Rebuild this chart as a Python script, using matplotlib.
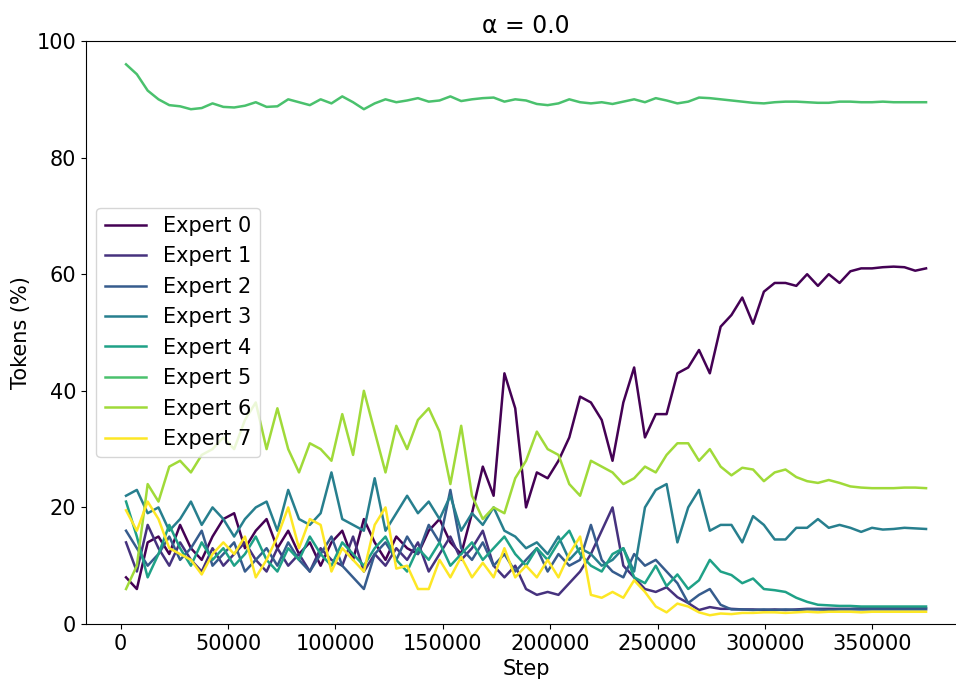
import numpy as np
import matplotlib.pyplot as plt

steps = np.linspace(2500, 375000, 75)

expert_0 = [8, 6, 14, 15, 12, 17, 13, 11, 15, 18, 19, 13, 16, 18, 13, 16, 12, 14, 10, 14,
            16, 11, 18, 14, 11, 15, 13, 12, 16, 18, 14, 12, 19, 27, 22, 43, 37, 20, 26, 25,
            28, 32, 39, 38, 35, 28, 38, 44, 32, 36, 36, 43, 44, 47, 43, 51, 53, 56, 51.5, 57,
            58.5, 58.5, 58, 60, 58, 60, 58.5, 60.5, 61, 61, 61.2, 61.3, 61.2, 60.6, 61]
expert_1 = [14, 9, 17, 13, 10, 14, 11, 9, 13, 10, 12, 14, 11, 9, 13, 10, 12, 9, 13, 11,
            10, 15, 9, 12, 10, 13, 11, 14, 9, 12, 15, 11, 13, 16, 10, 8, 10, 6, 5, 5.5,
            5, 7, 9, 12, 16, 20, 10, 8, 6, 5.5, 6.3, 4.6, 3.6, 2.4, 2.9, 2.6, 2.6, 2.5, 2.5, 2.4,
            2.5, 2.4, 2.5, 2.6, 2.6, 2.6, 2.6, 2.6, 2.7, 2.7, 2.7, 2.7, 2.7, 2.7, 2.7]
expert_2 = [16, 13, 10, 12, 15, 11, 13, 16, 10, 12, 14, 9, 11, 13, 10, 14, 11, 9, 12, 15,
            10, 8, 6, 12, 14, 11, 15, 12, 17, 14, 23, 13, 11, 14, 10, 12, 9, 11, 13, 9,
            12, 10, 11, 17, 11, 9, 8, 12, 10, 11, 9, 7, 3.6, 5, 6, 3.3, 2.5, 2.5, 2.4, 2.5,
            2.4, 2.5, 2.4, 2.5, 2.5, 2.4, 2.5, 2.5, 2.5, 2.5, 2.5, 2.5, 2.5, 2.5, 2.5]
expert_3 = [22, 23, 19, 20, 16, 18, 21, 17, 20, 18, 15, 18, 20, 21, 16, 23, 18, 17, 19, 26,
            18, 17, 16, 25, 16, 19, 22, 19, 21, 18, 22, 16, 19, 17, 20, 16, 15, 13, 14, 12,
            15, 11, 13, 12, 10, 11, 13, 9, 20, 23, 24, 14, 20, 23, 16, 17, 17, 14, 18.5, 17,
            14.5, 14.5, 16.5, 16.5, 18, 16.5, 17, 16.5, 15.8, 16.5, 16.2, 16.3, 16.5, 16.4, 16.3]
expert_4 = [21, 15, 8, 12, 17, 13, 10, 14, 11, 13, 10, 12, 15, 11, 9, 13, 11, 15, 12, 10,
            14, 12, 10, 13, 15, 11, 9, 13, 11, 14, 10, 12, 14, 11, 13, 15, 12, 10, 13, 11,
            14, 16, 12, 10, 9, 12, 13, 8, 7, 10, 6.5, 8.5, 6, 7.5, 11, 9, 8.4, 7, 7.8, 6,
            5.8, 5.5, 4.5, 3.8, 3.3, 3.2, 3.1, 3.1, 3.0, 3.0, 3.0, 3.0, 3.0, 3.0, 3.0]
expert_5 = [96, 94.3, 91.5, 90, 89, 88.8, 88.3, 88.5, 89.3, 88.7, 88.6, 88.9, 89.5, 88.7, 88.8,
            90, 89.5, 89, 90, 89.3, 90.5, 89.5, 88.3, 89.3, 90, 89.5, 89.8, 90.2, 89.6, 89.8,
            90.5, 89.7, 90, 90.2, 90.3, 89.6, 90, 89.8, 89.2, 89, 89.3, 90, 89.5, 89.3, 89.5,
            89.2, 89.6, 90, 89.5, 90.2, 89.8, 89.3, 89.6, 90.3, 90.2, 90, 89.8, 89.6, 89.4, 89.3,
            89.5, 89.6, 89.6, 89.5, 89.4, 89.4, 89.6, 89.6, 89.5, 89.5, 89.6, 89.5, 89.5, 89.5, 89.5]
expert_6 = [6, 10, 24, 21, 27, 28, 26, 29, 30, 32, 30, 35, 38, 30, 37, 30, 26, 31, 30, 28,
            36, 29, 40, 33, 26, 34, 30, 35, 37, 33, 24, 34, 22, 18, 20, 19, 25, 28, 33, 30,
            29, 24, 22, 28, 27, 26, 24, 25, 27, 26, 29, 31, 31, 28, 30, 27, 25.5, 26.8, 26.5, 24.5,
            26, 26.5, 25.2, 24.5, 24.2, 24.7, 24.2, 23.6, 23.4, 23.3, 23.3, 23.3, 23.4, 23.4, 23.3]
expert_7 = [19.5, 16, 21, 18, 13, 12, 11, 8.5, 12, 14, 12, 15, 8, 11, 15, 20, 13, 18, 17, 9,
            13, 11, 9, 17, 20, 9.5, 10, 6, 6, 11, 8, 11.5, 8, 10.5, 8, 13, 8, 10, 8, 11,
            8, 12, 15, 5, 4.5, 5.5, 4.5, 7.5, 5.5, 3, 2, 3.5, 3, 2, 1.5, 1.8, 1.7, 1.9, 1.9, 2.0,
            2.0, 1.9, 2.0, 2.1, 2.0, 2.1, 2.1, 2.1, 2.0, 2.1, 2.1, 2.1, 2.1, 2.1, 2.1]

experts = [expert_0, expert_1, expert_2, expert_3, expert_4, expert_5, expert_6, expert_7]
colors = plt.cm.viridis(np.linspace(0, 1, len(experts)))

fig = plt.figure(figsize=(9.56, 6.79), dpi=100)
ax = fig.add_axes([0.090, 0.081, 0.9205, 0.8586])

for i, (vals, c) in enumerate(zip(experts, colors)):
    ax.plot(steps, vals, color=c, linewidth=1.8, label=f'Expert {i}')

ax.set_ylim(0, 100)
ax.set_xlabel('Step', fontsize=15)
ax.set_ylabel('Tokens (%)', fontsize=15)
ax.set_title('α = 0.0', fontsize=17)
ax.tick_params(labelsize=15)
ax.legend(loc='center left', fontsize=15)

plt.savefig('out.png', dpi=100)
